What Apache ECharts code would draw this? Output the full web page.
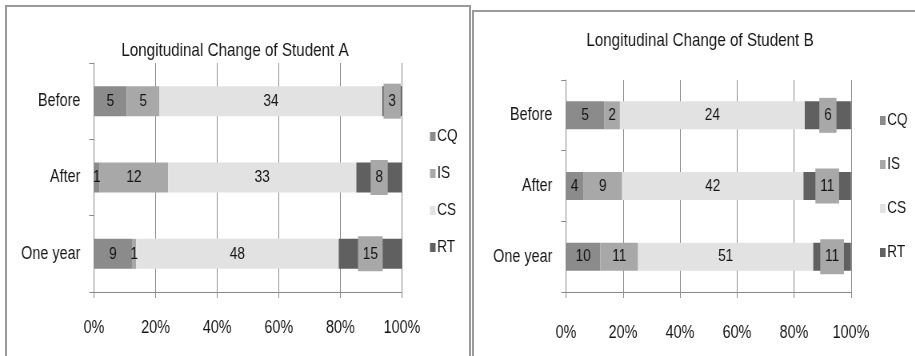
<!DOCTYPE html>
<html>
<head>
<meta charset="utf-8">
<script src="https://cdn.jsdelivr.net/npm/echarts@6/dist/echarts.min.js"></script>
<style>
  html, body { margin: 0; padding: 0; background: #fff; }
  #wrap { position: relative; width: 915px; height: 356px; overflow: hidden; background: #fff; }
  /* the chart is laid out wide and squeezed horizontally to get tall, condensed lettering */
  #chart { position: absolute; left: 0; top: 0; width: 1144px; height: 356px;
           transform: scaleX(0.8); transform-origin: 0 0; }
  .frame { position: absolute; border: 2px solid #9a9a9a; box-sizing: border-box; }
</style>
</head>
<body>
<div id="wrap">
  <div class="frame" style="left:5px;top:5px;width:466px;height:400px;"></div>
  <div class="frame" style="left:472px;top:10px;width:460px;height:400px;"></div>
  <div id="chart"></div>
</div>
<script>
// Rows of each bar (top to bottom)
const categories = ['Before', 'After', 'One year'];
const seriesNames = ['CQ', 'IS', 'CS', 'RT'];

// Student A counts per category
const aCQ = [5, 1, 9];
const aIS = [5, 12, 1];
const aCS = [34, 33, 48];
const aRT = [3, 8, 15];

// Student B counts per category
const bCQ = [5, 4, 10];
const bIS = [2, 9, 11];
const bCS = [24, 42, 51];
const bRT = [6, 11, 11];

const titles = ['Longitudinal Change of Student A', 'Longitudinal Change of Student B'];
const colors = { CQ: '#8b8b8b', IS: '#a8a8a8', CS: '#e2e2e2', RT: '#606060' };

const FONT = '"Liberation Sans", Arial, sans-serif';
const TXT = '#151515';
const SX = 1.25; // horizontal layout units per screen pixel (undoes the 0.8 squeeze)

// 100% stacked: each segment is its count divided by the row total
function percentRows(groups) {
  const totals = categories.map((_, i) => groups.reduce((s, g) => s + g[i], 0));
  return groups.map(g => g.map((v, i) => ({ value: v / totals[i] * 100, raw: v })));
}

const rowsA = percentRows([aCQ, aIS, aCS, aRT]);
const rowsB = percentRows([bCQ, bIS, bCS, bRT]);

const panels = [
  { grid: { left: 94 * SX, width: 308 * SX, top: 63, height: 229 }, rows: rowsA, barWidth: 30, xMargin: 27, stack: 'A',
    title: { left: 231 * SX, top: 36 }, legend: { left: 426 * SX, top: 123, itemGap: 20 } },
  { grid: { left: 566 * SX, width: 285 * SX, top: 80, height: 212 }, rows: rowsB, barWidth: 28, xMargin: 32, stack: 'B',
    title: { left: 696 * SX, top: 26 }, legend: { left: 876 * SX, top: 107, itemGap: 27 } }
];

const option = {
  backgroundColor: 'transparent',
  animation: false,
  title: panels.map((p, k) => ({
    text: titles[k], left: p.title.left, top: p.title.top, textAlign: 'center',
    textStyle: { fontFamily: FONT, fontSize: 19, fontWeight: 'normal', color: TXT }
  })),
  legend: panels.map(p => ({
    orient: 'vertical', left: p.legend.left, top: p.legend.top, itemGap: p.legend.itemGap,
    itemWidth: 7, itemHeight: 9, icon: 'rect', data: seriesNames,
    selectedMode: false,
    textStyle: { fontFamily: FONT, fontSize: 17, color: TXT, padding: [0, 0, 0, -3] }
  })),
  grid: panels.map(p => p.grid),
  xAxis: panels.map((p, k) => ({
    type: 'value', gridIndex: k, min: 0, max: 100, interval: 20,
    axisLine: { show: true, lineStyle: { color: '#8a8a8a', width: 1 } },
    axisTick: { show: true, length: 6, lineStyle: { color: '#8a8a8a' } },
    splitLine: { show: true, lineStyle: { color: '#8a8a8a', width: 1 } },
    axisLabel: { formatter: '{value}%', fontFamily: FONT, fontSize: 18, color: TXT, margin: p.xMargin }
  })),
  yAxis: panels.map((p, k) => ({
    type: 'category', gridIndex: k, data: categories, inverse: true,
    axisLine: { show: true, lineStyle: { color: '#8a8a8a', width: 1 } },
    axisTick: { show: true, length: 6, lineStyle: { color: '#8a8a8a' } },
    axisLabel: { fontFamily: FONT, fontSize: 18, color: TXT, margin: 17 }
  })),
  series: []
};

panels.forEach((p, k) => {
  seriesNames.forEach((name, j) => {
    const isRT = name === 'RT';
    option.series.push({
      name, type: 'bar', stack: p.stack, xAxisIndex: k, yAxisIndex: k,
      barWidth: p.barWidth,
      itemStyle: { color: colors[name] },
      data: p.rows[j],
      label: {
        show: true, position: 'inside',
        formatter: params => String(params.data.raw),
        fontFamily: FONT, fontSize: 17, color: TXT,
        backgroundColor: isRT ? colors.IS : 'transparent',
        padding: isRT ? [9, 6] : 0
      }
    });
  });
});

const chart = echarts.init(document.getElementById('chart'), null, { renderer: 'canvas' });
chart.setOption(option);
</script>
</body>
</html>
